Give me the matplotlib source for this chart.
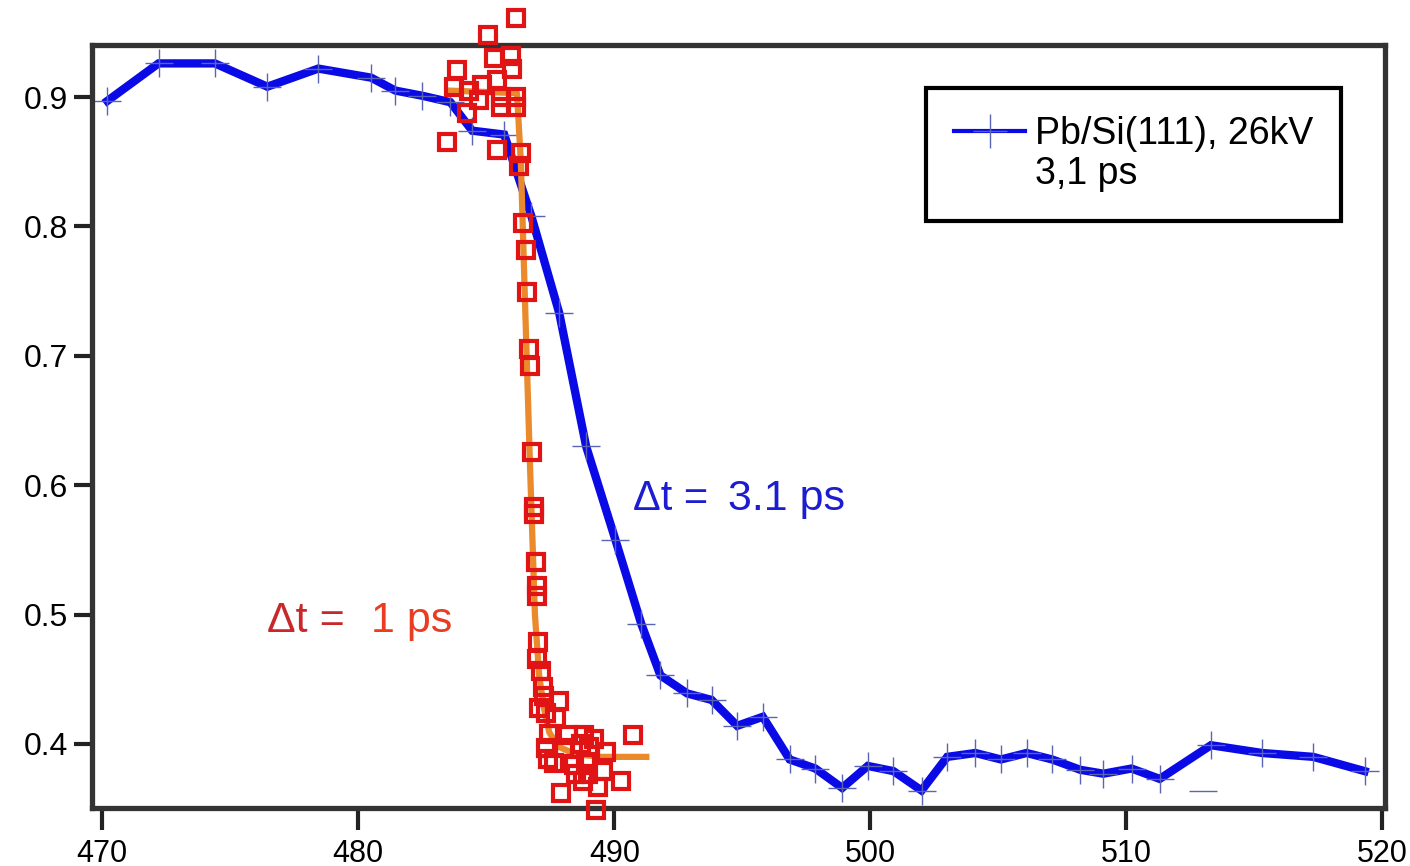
import matplotlib
matplotlib.use('Agg')
import matplotlib.pyplot as plt
from matplotlib.lines import Line2D

plt.rcParams['font.family'] = ['Liberation Sans', 'DejaVu Sans']

# Pb/Si(111), 26kV - 3,1 ps
blue_x = [470.2, 472.2, 474.4, 476.45, 478.44, 480.5, 481.45, 482.5, 483.6, 484.45,
          485.7, 486.76, 487.85, 488.9, 490.04, 491.05, 491.8, 492.85, 493.8, 494.8,
          495.8, 496.85, 497.85, 498.9, 499.9, 500.9, 502.0, 503.0, 504.1, 505.1,
          506.1, 507.1, 508.2, 509.1, 510.2, 511.3, 513.3, 515.3, 517.3, 519.3]
blue_y = [0.897, 0.926, 0.926, 0.908, 0.922, 0.915, 0.905, 0.901, 0.896, 0.874,
          0.871, 0.808, 0.733, 0.630, 0.558, 0.493, 0.453, 0.439, 0.434, 0.414,
          0.421, 0.388, 0.381, 0.366, 0.383, 0.379, 0.364, 0.390, 0.393, 0.388,
          0.393, 0.388, 0.380, 0.377, 0.381, 0.373, 0.399, 0.393, 0.390, 0.379]
stray_x = [513.0]
stray_y = [0.364]

# 1 ps messung (rote quadrate)
red_x = [486.16, 485.05, 485.31, 485.96, 486.02, 485.43, 483.87, 483.75, 484.84, 484.34,
         484.73, 485.57, 486.16, 485.57, 486.16, 484.26, 483.48, 485.43, 486.36, 486.29,
         486.45, 486.54, 486.60, 486.68, 486.72, 486.78, 486.88, 486.88, 486.93, 487.00,
         487.00, 487.03, 486.97, 487.14, 487.20, 487.27, 487.85, 487.07, 487.33, 487.72,
         487.46, 488.18, 488.83, 489.22, 490.72, 487.33, 488.05, 488.70, 489.02, 489.68,
         487.40, 487.66, 488.44, 488.90, 488.50, 488.96, 489.54, 488.76, 489.35, 490.26,
         487.92, 489.28]
red_y = [0.961, 0.948, 0.930, 0.932, 0.922, 0.913, 0.921, 0.908, 0.909, 0.905,
         0.898, 0.900, 0.900, 0.892, 0.892, 0.888, 0.865, 0.859, 0.857, 0.847,
         0.803, 0.782, 0.749, 0.705, 0.692, 0.626, 0.583, 0.578, 0.541, 0.522,
         0.514, 0.479, 0.466, 0.456, 0.444, 0.437, 0.433, 0.428, 0.424, 0.420,
         0.408, 0.407, 0.407, 0.404, 0.407, 0.397, 0.397, 0.400, 0.398, 0.394,
         0.388, 0.385, 0.384, 0.386, 0.377, 0.377, 0.379, 0.371, 0.367, 0.371,
         0.362, 0.349]

# fit (orange)
fit_x = [483.5, 486.2, 486.35, 486.5, 486.7, 486.9, 487.07, 487.25, 487.46, 487.8, 488.5, 489.5, 491.25]
fit_y = [0.905, 0.903, 0.850, 0.750, 0.620, 0.500, 0.452, 0.428, 0.409, 0.398, 0.392, 0.390, 0.390]

fig = plt.figure(figsize=(14.1, 8.66), dpi=100)
ax = fig.add_axes([0.0652, 0.067, 0.9171, 0.881])

ax.plot(blue_x, blue_y, color='#0a0ae6', lw=6, marker='+', ms=20, mew=1,
        mec='#5a64b4', zorder=2, solid_joinstyle='miter')
ax.plot(stray_x, stray_y, ls='none', marker='_', ms=20, mew=1, mec='#5a64b4', zorder=2)
ax.plot(fit_x, fit_y, color='#ea8a2c', lw=4.5, zorder=3)
ax.plot(red_x, red_y, ls='none', marker='s', ms=12, mfc='none', mec='#e01414',
        mew=3, zorder=4, clip_on=False)

# Beschriftungen
ax.text(490.72, 0.581, '\u0394t =', color='#1c1cd2', fontsize=30, va='baseline')
ax.text(494.45, 0.581, '3.1 ps', color='#1c1cd2', fontsize=31, va='baseline')
ax.text(476.45, 0.4866, '\u0394t =', color='#c8282c', fontsize=31, va='baseline')
ax.text(480.5, 0.4866, '1 ps', color='#ea3c22', fontsize=31, va='baseline')

ax.set_xlim(469.6, 520.1)
ax.set_ylim(0.3505, 0.9402)
ax.set_xticks([470, 480, 490, 500, 510, 520])
ax.set_yticks([0.4, 0.5, 0.6, 0.7, 0.8, 0.9])
ax.set_yticklabels(['0.4', '0.5', '0.6', '0.7', '0.8', '0.9'])
ax.tick_params(axis='x', direction='out', length=16, width=3, labelsize=22, pad=6, color='#222222')
ax.tick_params(axis='y', direction='out', length=13, width=3, labelsize=23, pad=4, color='#222222')
for s in ax.spines.values():
    s.set_linewidth(3.8)
    s.set_color('#333333')

h1 = Line2D([], [], color='#0a0ae6', lw=3, marker='+', ms=24, mew=1, mec='#5a64b4')
h2 = Line2D([], [], color='none')
leg = ax.legend([h1, h2], ['Pb/Si(111), 26kV', '3,1 ps'], loc='upper right',
                bbox_to_anchor=(0.966, 0.944), fontsize=27, frameon=True, fancybox=False,
                edgecolor='black', handlelength=1.9, handletextpad=0.25, labelspacing=0.12,
                borderpad=0.75, borderaxespad=0)
leg.get_frame().set_linewidth(3)
leg.get_frame().set_alpha(1)

fig.savefig('out.png', dpi=100)
